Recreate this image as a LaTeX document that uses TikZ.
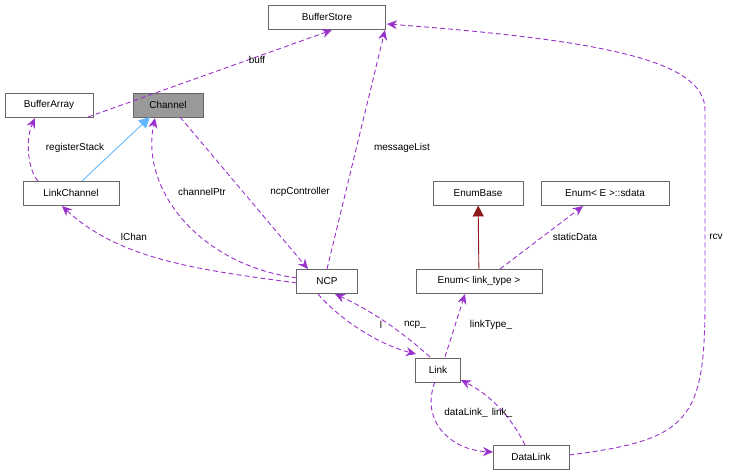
\documentclass[tikz,border=0pt]{standalone}
\usepackage{fontspec}
\setmainfont{Liberation Sans}
\usetikzlibrary{arrows.meta,positioning}
\definecolor{dxpurple}{RGB}{153,50,204}
\definecolor{dxblue}{RGB}{99,184,255}
\definecolor{dxred}{RGB}{139,26,26}
\definecolor{dxgray}{RGB}{153,153,153}
\definecolor{dxedge}{RGB}{102,102,102}

\begin{document}
\begin{tikzpicture}[x=1bp,y=-1bp,
  cls/.style={draw=dxedge, line width=0.9bp, fill=white, text=black,
    font=\fontsize{10}{12}\selectfont, minimum height=24bp, inner xsep=5bp},
  dep/.style={dxpurple, line width=0.9bp, dash pattern=on 5bp off 3bp,
    -{Stealth[length=10bp,width=9bp]}},
  lbl/.style={font=\fontsize{10}{12}\selectfont, text=black, inner sep=1bp}]
\useasboundingbox (0,0) rectangle (731,476);
% Classes
\node[cls, minimum width=117bp] (bufstore) at (327,17) {BufferStore};
\node[cls, minimum width=88bp] (bufarray) at (49,105) {BufferArray};
\node[cls, minimum width=70bp, fill=dxgray] (channel) at (168,105) {Channel};
\node[cls, minimum width=96bp] (linkchan) at (71,193) {LinkChannel};
\node[cls, minimum width=90bp] (enumbase) at (478,193) {EnumBase};
\node[cls, minimum width=128bp] (sdata) at (605,193) {Enum\textless{} E \textgreater::sdata};
\node[cls, minimum width=126bp] (enumlt) at (479,281) {Enum\textless{} link\_type \textgreater};
\node[cls, minimum width=61bp] (ncp) at (327,281) {NCP};
\node[cls, minimum width=45bp] (link) at (438,370) {Link};
\node[cls, minimum width=76bp] (datalink) at (531,457) {DataLink};
% Inheritance
\draw[dxblue, line width=0.9bp, -{Triangle[length=11bp,width=11bp,fill=dxblue]}] (82,181) -- (150,117);
\draw[dxred, line width=0.9bp, -{Triangle[length=11bp,width=11bp,fill=dxred]}] (enumlt) -- (enumbase);
% Usage
\draw[dep] (88,117) -- (332,30);
\node[lbl] at (257,60) {buff};
\draw[dep] (38,181) .. controls (28,170) and (25,140) .. (35,118);
\node[lbl] at (75,148) {registerStack};
\draw[dep] (180,117) -- (308,269);
\node[lbl] at (300,192) {ncpController};
\draw[dep] (297,278) .. controls (200,265) and (140,190) .. (155,118);
\node[lbl] at (202,192) {channelPtr};
\draw[dep] (297,283) .. controls (200,270) and (120,260) .. (62,206);
\node[lbl] at (134,237) {lChan};
\draw[dep] (327,269) -- (385,30);
\node[lbl] at (402,148) {messageList};
\draw[dep] (500,269) -- (583,206);
\node[lbl] at (575,237) {staticData};
\draw[dep] (445,357) -- (465,294);
\node[lbl] at (491,325) {linkType\_};
\draw[dep] (318,294) .. controls (340,320) and (380,345) .. (416,354);
\node[lbl] at (381,325) {l};
\draw[dep] (430,357) .. controls (400,330) and (370,310) .. (335,294);
\node[lbl] at (415,325) {ncp\_};
\draw[dep] (435,382) .. controls (420,420) and (450,450) .. (493,452);
\node[lbl] at (466,413) {dataLink\_};
\draw[dep] (525,445) .. controls (510,415) and (490,395) .. (461,380);
\node[lbl] at (502,413) {link\_};
\draw[dep] (569,455) .. controls (690,440) and (705,420) .. (705,300)
  -- (705,110) .. controls (705,60) and (600,40) .. (387,24);
\node[lbl] at (716,237) {rcv};
\end{tikzpicture}
\end{document}
